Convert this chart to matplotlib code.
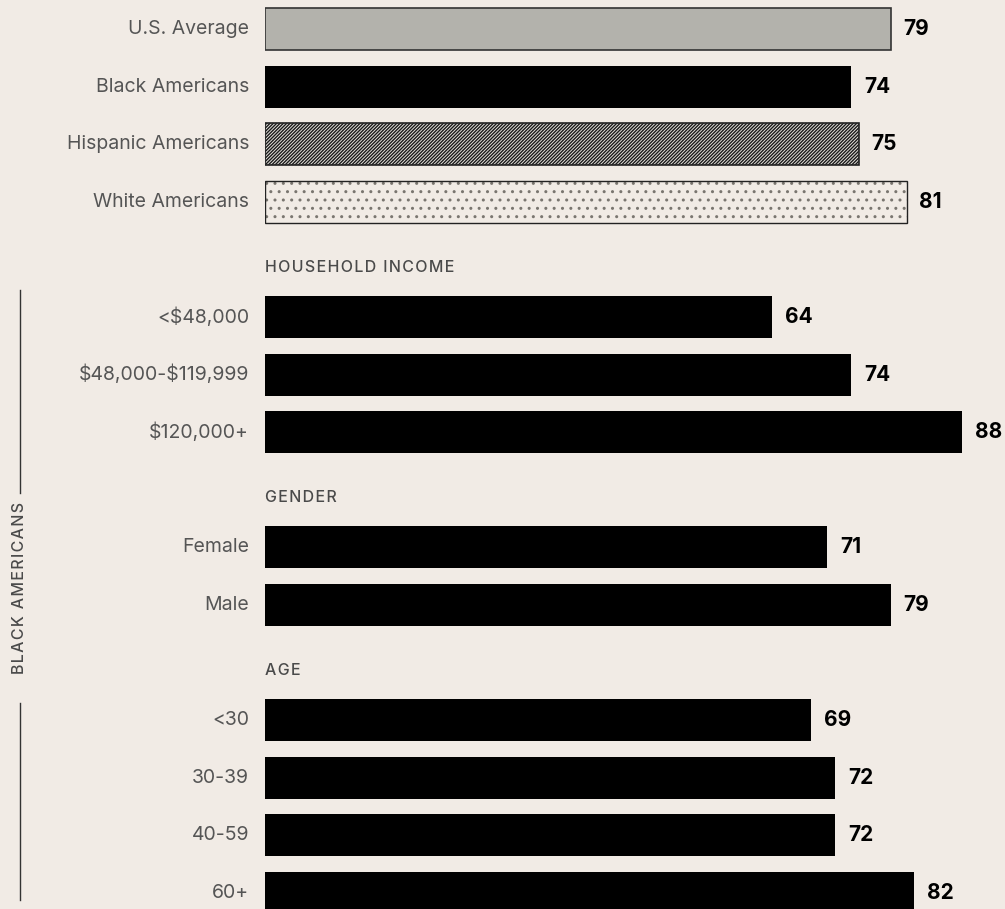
import matplotlib.pyplot as plt
from matplotlib.lines import Line2D

# ---- data ----
groups = ["", "HOUSEHOLD INCOME", "GENDER", "AGE"]
labels = [
    ["U.S. Average", "Black Americans", "Hispanic Americans", "White Americans"],
    ["<$48,000", "$48,000-$119,999", "$120,000+"],
    ["Female", "Male"],
    ["<30", "30-39", "40-59", "60+"],
]
values = [
    [79, 74, 75, 81],
    [64, 74, 88],
    [71, 79],
    [69, 72, 72, 82],
]
styles = [
    ["avg", "solid", "hatch", "dots"],
    ["solid"] * 3,
    ["solid"] * 2,
    ["solid"] * 4,
]

bg = "#f1ebe5"
plt.rcParams["font.family"] = ["Inter", "DejaVu Sans"]
plt.rcParams["text.parse_math"] = False
plt.rcParams["hatch.linewidth"] = 1.0


def spaced(s):
    # rough letter-spacing for the caps labels
    return "\u200a".join(s)


fig = plt.figure(figsize=(10.05, 9.09), dpi=100, facecolor=bg)
ax = fig.add_axes([265 / 1005, 0, 740 / 1005, 1])
ax.set_facecolor(bg)

step = 57.6
top_px = 29
ax.set_xlim(0, 740 / 7.92)
ax.set_ylim((909 - top_px) / step, -top_px / step)
ax.axis("off")

slot = 0
for name, labs, vals, sts in zip(groups, labels, values, styles):
    if name:
        ax.text(0, slot + 0.14, spaced(name), ha="left", va="center",
                fontsize=11.5, fontweight="medium", color="#4a4a4a")
        slot += 1
    for lab, v, st in zip(labs, vals, sts):
        h = 0.73
        if st == "solid":
            ax.barh(slot, v, height=h, color="black", linewidth=0)
        elif st == "avg":
            ax.barh(slot, v, height=h, color="#b3b2ac", edgecolor="#333333",
                    linewidth=1.2)
        elif st == "hatch":
            ax.barh(slot, v, height=h, color="#e4e1db", edgecolor="#1a1a1a",
                    hatch="//////////", linewidth=0)
            ax.barh(slot, v, height=h, fill=False, edgecolor="#222222",
                    linewidth=1.2)
        elif st == "dots":
            ax.barh(slot, v, height=h, color=bg, edgecolor="#7a7670",
                    hatch="..", linewidth=0)
            ax.barh(slot, v, height=h, fill=False, edgecolor="#222222",
                    linewidth=1.0)
        ax.text(v + 1.6, slot, str(v), ha="left", va="center", fontsize=15,
                fontweight="bold", color="black")
        ax.text(-2.0, slot, lab, ha="right", va="center", fontsize=14,
                color="#555555", clip_on=False)
        slot += 1

# left bracket label for Black Americans subgroups
fig.text(20 / 1005, 1 - 588 / 909, spaced("BLACK AMERICANS"), rotation=90,
         ha="center", va="center", fontsize=11.5, fontweight="medium",
         color="#4a4a4a")
fig.add_artist(Line2D([20 / 1005, 20 / 1005], [1 - 290 / 909, 1 - 493 / 909],
                      color="#333333", lw=1))
fig.add_artist(Line2D([20 / 1005, 20 / 1005], [1 - 703 / 909, 1 - 900 / 909],
                      color="#333333", lw=1))

fig.savefig("out.png", dpi=100, facecolor=bg)
